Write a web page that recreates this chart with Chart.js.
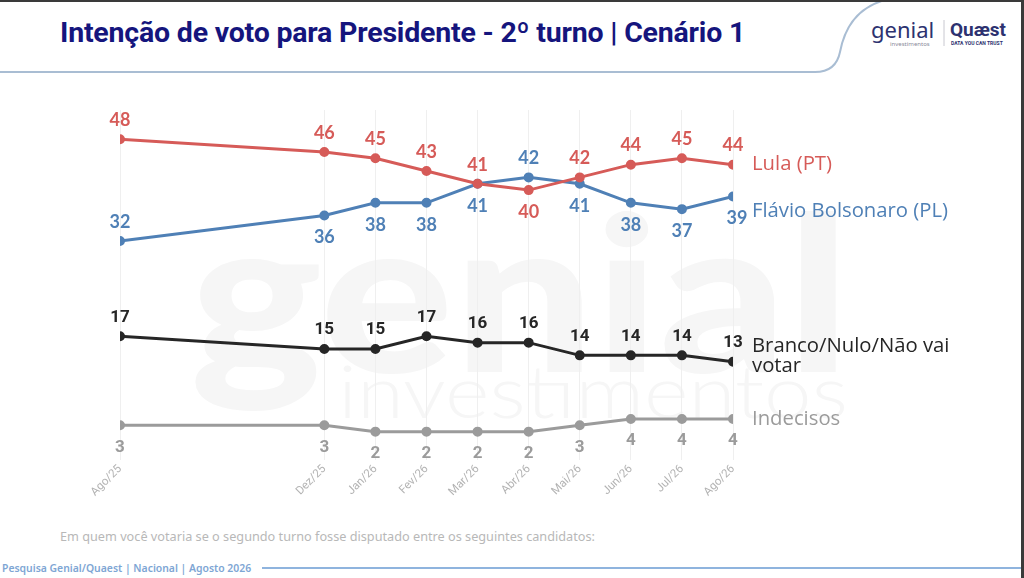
<!DOCTYPE html>
<html>
<head>
<meta charset="utf-8">
<script src="https://cdn.jsdelivr.net/npm/chart.js@4.4.1/dist/chart.umd.min.js"></script>
<style>
  html, body { margin: 0; padding: 0; background: #fff; }
  #page { position: relative; width: 1024px; height: 578px; overflow: hidden; background: #fff;
          box-sizing: border-box; border-top: 2px solid #3a3a3a; border-right: 3px solid #3a3a3a; }
  #deco { position: absolute; left: 0; top: -2px; }
  #title { position: absolute; left: 60px; top: 14px; font: bold 28.5px Roboto, sans-serif; color: #15157d;
           letter-spacing: -0.2px; white-space: nowrap; }
  #chartBox { position: absolute; left: 0; top: 80px; width: 1021px; height: 420px; }
  #question { position: absolute; left: 60px; top: 525px; font: 12.7px "Noto Sans", sans-serif; color: #b8b8b8; }
  #source { position: absolute; left: 2px; top: 559px; font: 600 10.4px "Noto Sans", sans-serif; color: #7ea6d4; }
</style>
</head>
<body>
<div id="page">
  <svg id="deco" width="1024" height="580">
    <g fill="#f6f6f6" font-family="Lato, sans-serif">
      <text x="190" y="372" font-size="215" font-weight="900" textLength="660" lengthAdjust="spacingAndGlyphs">genial</text>
      <text x="338" y="418" font-size="72" font-weight="300" textLength="510" lengthAdjust="spacingAndGlyphs">investimentos</text>
    </g>
    <path d="M0 72 L815 72 Q836 72 840 52 Q848 10 885 0" fill="none" stroke="#a9bdd3" stroke-width="2"/>
    <line x1="262" y1="568" x2="1024" y2="568" stroke="#8fb4de" stroke-width="2"/>
    <text x="871" y="38" font-family="Noto Sans, sans-serif" font-size="22" fill="#2d3270">genial</text>
    <text x="890" y="46" font-family="Noto Sans, sans-serif" font-size="6" fill="#8a8a9a">investimentos</text>
    <line x1="944" y1="20" x2="944" y2="46" stroke="#c8c8d0" stroke-width="1"/>
    <text x="950" y="36" font-family="Roboto, sans-serif" font-size="19" font-weight="bold" fill="#2d3270">Quæst</text>
    <text x="951" y="45" font-family="Roboto, sans-serif" font-size="5" font-weight="bold" fill="#2d3270">DATA YOU CAN TRUST</text>
  </svg>
  <div id="title">Intenção de voto para Presidente - 2º turno | Cenário 1</div>
  <div id="chartBox"><canvas id="chart"></canvas></div>
  <div id="question">Em quem você votaria se o segundo turno fosse disputado entre os seguintes candidatos:</div>
  <div id="source">Pesquisa Genial/Quaest | Nacional | Agosto 2026</div>
</div>
<script>
const months = ['Ago/25', 'Dez/25', 'Jan/26', 'Fev/26', 'Mar/26', 'Abr/26', 'Mai/26', 'Jun/26', 'Jul/26', 'Ago/26'];
const monthIndex = [0, 4, 5, 6, 7, 8, 9, 10, 11, 12];
const lula = [48, 46, 45, 43, 41, 40, 42, 44, 45, 44];
const flavio = [32, 36, 38, 38, 41, 42, 41, 38, 37, 39];
const branco = [17, 15, 15, 17, 16, 16, 14, 14, 14, 13];
const indecisos = [3, 3, 2, 2, 2, 2, 3, 4, 4, 4];

function pts(values) {
    return values.map((v, i) => ({ x: monthIndex[i], y: v }));
}

function series(name, values, color, extra) {
    return Object.assign({
        label: name,
        data: pts(values),
        borderColor: color,
        backgroundColor: color,
        borderWidth: 3,
        pointRadius: 3.5,
        pointHoverRadius: 3.5,
        tension: 0
    }, extra);
}

// number labels above/below each point + series name at the line end
const labelsPlugin = {
    id: 'labels',
    afterDatasetsDraw(chart) {
        const ctx = chart.ctx;
        chart.data.datasets.forEach((ds, di) => {
            const meta = chart.getDatasetMeta(di);
            ctx.save();
            ctx.fillStyle = ds.borderColor;
            ctx.font = ds.numFont;
            ctx.textAlign = 'center';
            ctx.textBaseline = 'middle';
            meta.data.forEach((p, i) => {
                const below = ds.labelPos[i] == 'b';
                const dx = (ds.labelDx && ds.labelDx[i]) || 0;
                ctx.fillText(ds.data[i].y, p.x + dx, p.y + (below ? 22 : -19));
            });
            const last = meta.data[meta.data.length - 1];
            ctx.font = '20.3px "Open Sans", sans-serif';
            ctx.textAlign = 'left';
            ds.nameLines.forEach((line, k) => {
                ctx.fillText(line, last.x + 19, last.y + ds.nameDy + k * 20);
            });
            ctx.restore();
        });
    }
};

const numBig = 'bold 18px Lato, sans-serif';
const numSmall = 'bold 17px Roboto, sans-serif';

new Chart(document.getElementById('chart'), {
    type: 'line',
    data: {
        datasets: [
            series('Lula (PT)', lula, '#d65b58', {
                numFont: numBig, labelPos: ['a', 'a', 'a', 'a', 'a', 'b', 'a', 'a', 'a', 'a'],
                nameLines: ['Lula (PT)'], nameDy: 0
            }),
            series('Flávio Bolsonaro (PL)', flavio, '#4f80b6', {
                numFont: numBig, labelPos: ['a', 'b', 'b', 'b', 'b', 'a', 'b', 'b', 'b', 'b'],
                labelDx: [0, 0, 0, 0, 0, 0, 0, 0, 0, 4],
                nameLines: ['Flávio Bolsonaro (PL)'], nameDy: 15
            }),
            series('Branco/Nulo/Não vai votar', branco, '#262626', {
                numFont: numSmall, labelPos: ['a', 'a', 'a', 'a', 'a', 'a', 'a', 'a', 'a', 'a'],
                nameLines: ['Branco/Nulo/Não vai', 'votar'], nameDy: -15
            }),
            series('Indecisos', indecisos, '#9b9b9b', {
                numFont: numSmall, labelPos: ['b', 'b', 'b', 'b', 'b', 'b', 'b', 'b', 'b', 'b'],
                nameLines: ['Indecisos'], nameDy: 0
            })
        ]
    },
    options: {
        responsive: true,
        maintainAspectRatio: false,
        animation: false,
        layout: { padding: { left: 120, right: 288, top: 28, bottom: 1 } },
        plugins: { legend: { display: false }, tooltip: { enabled: false } },
        scales: {
            x: {
                type: 'linear',
                min: 0,
                max: 12,
                afterBuildTicks(scale) {
                    scale.ticks = monthIndex.map(v => ({ value: v }));
                },
                ticks: {
                    autoSkip: false,
                    maxRotation: 45,
                    minRotation: 45,
                    color: '#b3b3b3',
                    font: { size: 11.5, family: 'Roboto, sans-serif' },
                    padding: 2,
                    callback: (v) => months[monthIndex.indexOf(v)]
                },
                grid: { color: '#efefef', lineWidth: 1, drawTicks: false },
                border: { display: false }
            },
            y: {
                display: false,
                min: -2.5,
                max: 52.6
            }
        }
    },
    plugins: [labelsPlugin]
});
</script>
</body>
</html>
